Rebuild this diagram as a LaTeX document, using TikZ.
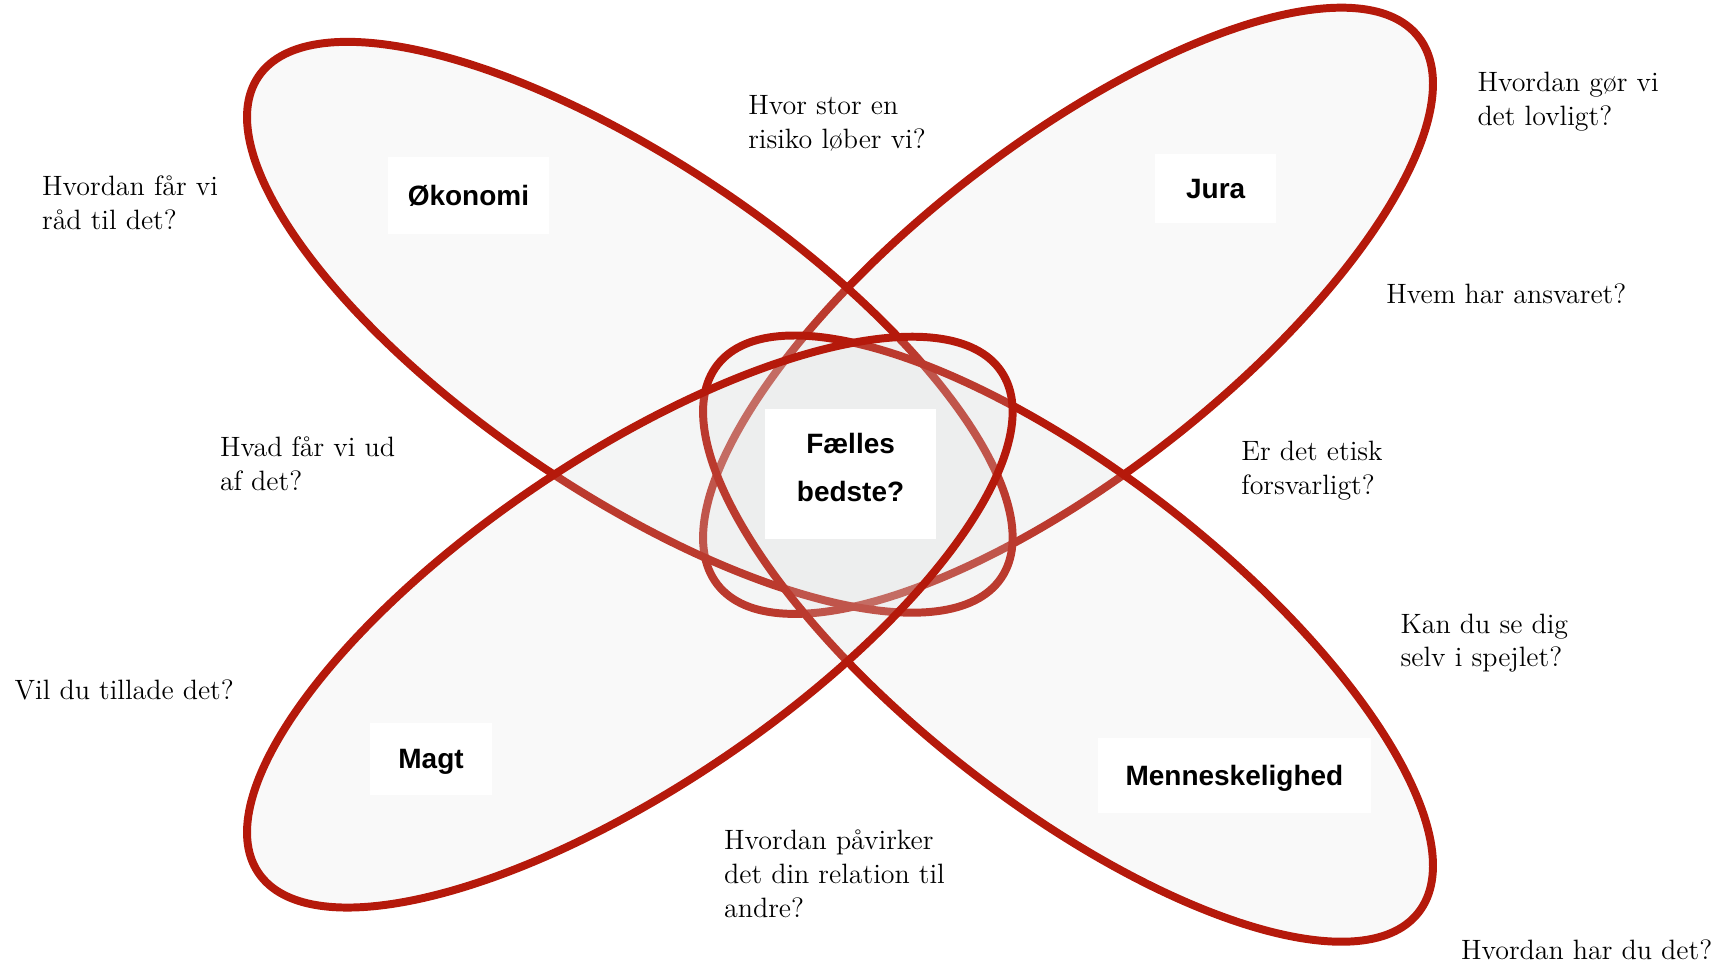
\documentclass[tikz,border=0pt]{standalone}
\usepackage{fontspec}
\setsansfont{Liberation Sans}
\usepackage{xcolor}
\definecolor{petalred}{HTML}{B5190B}
\definecolor{petalfill}{HTML}{DCDEDE}
\usepackage{tikz}
\tikzset{
    petal/.style = {draw=petalred, line width=1.45mm, fill=petalfill,
                    fill opacity=0.17, draw opacity=1},
    topic/.style = {fill=white, inner sep=0pt, text height=10.4pt, text depth=0pt,
                    font=\sffamily\bfseries\fontsize{14.5}{25}\selectfont},
    centre/.style = {fill=white, inner sep=0pt, align=center, text depth=2.4mm,
                     font=\sffamily\bfseries\fontsize{14.5}{25}\selectfont},
    question/.style = {anchor=north west, inner sep=0pt, align=left,
                       font=\fontsize{14.5}{17.5}\selectfont},
}

\begin{document}
\begin{tikzpicture}[x=0.2mm, y=-0.2mm]
        \useasboundingbox (0,0) rectangle (1568,876);
        % petals, back to front
        \path[petal, rotate around={38:(972.5,283)}] (972.5,283) ellipse [x radius=405, y radius=150];
        \path[petal, rotate around={-34:(573.5,298)}] (573.5,298) ellipse [x radius=408, y radius=150];
        \path[petal, rotate around={-38:(972.5,581.5)}] (972.5,581.5) ellipse [x radius=405, y radius=150];
        \path[petal, rotate around={34:(573.5,566.5)}] (573.5,566.5) ellipse [x radius=408, y radius=150];
        % topics
        \node[topic, minimum width=29.4mm, minimum height=14mm] (okonomi) at (426.5,178) {Økonomi};
        \node[topic, minimum width=22mm, minimum height=12.6mm] (jura) at (1107,171.5) {Jura};
        \node[topic, minimum width=22.2mm, minimum height=13.2mm] (magt) at (392.5,691) {Magt};
        \node[topic, minimum width=49.6mm, minimum height=13.6mm] (menneske) at (1124,706) {Menneskelighed};
        \node[centre, minimum width=31mm, minimum height=23.8mm] (faelles) at (774.5,431.5) {Fælles\\bedste?};
        % questions
        \node[question] (risiko) at (681,86.5) {Hvor stor en\\risiko løber vi?};
        \node[question] (lovligt) at (1345,65.5) {Hvordan gør vi\\det lovligt?};
        \node[question] (raad) at (38,159.5) {Hvordan får vi\\råd til det?};
        \node[question] (ansvar) at (1262,258.5) {Hvem har ansvaret?};
        \node[question] (udbytte) at (200,397.5) {Hvad får vi ud\\af det?};
        \node[question] (etisk) at (1130,401.5) {Er det etisk\\forsvarligt?};
        \node[question] (spejl) at (1275,558.5) {Kan du se dig\\selv i spejlet?};
        \node[question] (tillade) at (13,618.5) {Vil du tillade det?};
        \node[question] (relation) at (659,755.5) {Hvordan påvirker\\det din relation til\\andre?};
        \node[question] (trivsel) at (1330,855) {Hvordan har du det?};
      \end{tikzpicture}
\end{document}
